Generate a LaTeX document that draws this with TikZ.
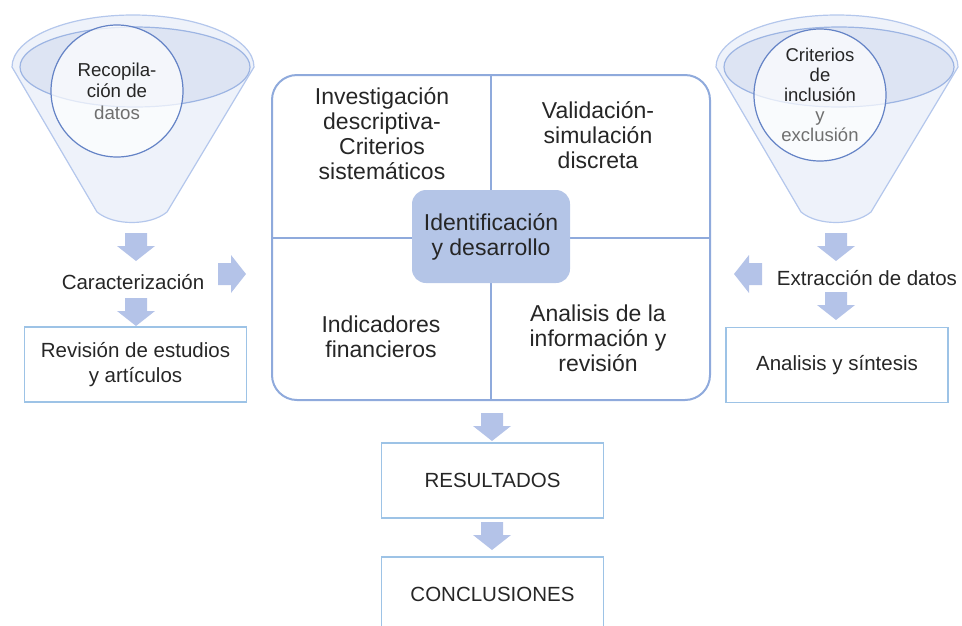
\documentclass[tikz,border=0pt]{standalone}
\usepackage{fontspec}
\setmainfont{Liberation Sans}

\definecolor{txt}{HTML}{262626}
\definecolor{soft}{HTML}{6F6F6F}
\definecolor{boxline}{HTML}{9DC3E6}
\definecolor{frameline}{HTML}{8FAADC}
\definecolor{arrowc}{HTML}{B4C3E8}
\definecolor{core}{HTML}{B4C5E7}
\definecolor{funfill}{HTML}{EEF2FA}
\definecolor{funline}{HTML}{B4C7EC}
\definecolor{rimfill}{HTML}{DDE4F3}
\definecolor{rimline}{HTML}{9DB5E3}
\definecolor{ringline}{HTML}{6483C6}

\begin{document}
\begin{tikzpicture}
    [x=1pt,y=-1pt,
     every node/.style={text=txt,align=center,inner sep=0pt},
     txtS/.style={font=\fontsize{20.5}{25}\selectfont},
     txtL/.style={font=\fontsize{23}{25}\selectfont},
     txtC/.style={font=\fontsize{18.7}{21.5}\selectfont},
     stepbox/.style={rectangle,draw=boxline,line width=1.6pt,minimum width=222pt,minimum height=75pt,txtS},
     ring/.style={circle,draw=ringline,line width=1.2pt,fill=white,fill opacity=0.7,text opacity=1,minimum size=132pt,txtC},
     barrow/.pic={\fill[arrowc] (-11,0) -- (11,0) -- (11,13) -- (19,13) -- (0,28) -- (-19,13) -- (-11,13) -- cycle;}]
    \useasboundingbox (0,0) rectangle (962,625);
    \clip (0,0) rectangle (962,625);
    % funnels
    \foreach \cx in {133,837} {
      \filldraw [fill=funfill,draw=funline,line width=1.2pt]
        ({\cx-121},67) arc [start angle=180,end angle=0,x radius=121pt,y radius=52pt]
        -- ({\cx+34},212) .. controls ({\cx+17},226) and ({\cx-19},226) .. ({\cx-36},212) -- cycle;
      \filldraw [fill=rimfill,draw=rimline,line width=1.2pt] ({\cx+2},67) ellipse [x radius=115pt,y radius=40pt];
    }
    \node (recop) at (117,91) [ring] {Recopila-\\ción de\\\textcolor{soft}{datos}};
    \node (crit) at (820,95) [ring,font=\fontsize{18.5}{20}\selectfont] {Criterios\\de\\inclusión\\\textcolor{soft}{y}\\\textcolor{soft}{exclusión}};
    % left column
    \node (carac) at (133,282) [txtS] {Caracterización};
    \node (revis) at (135.5,364.5) [stepbox] {Revisión de estudios\\y artículos};
    \pic at (136,233) {barrow};
    \pic at (136,298) {barrow};
    \pic [rotate=90] at (218,274) {barrow};
    % right column
    \node (extr) at (867,278) [txtS] {Extracción de datos};
    \node (anal) at (837,365) [stepbox] {Analisis y síntesis};
    \pic at (836,233) {barrow};
    \pic at (836,292) {barrow};
    \pic [rotate=-90] at (762,274) {barrow};
    % center matrix
    \node (frame) at (491,237.5) [rectangle,rounded corners=25pt,draw=frameline,line width=2pt,minimum width=438pt,minimum height=325pt] {};
    \draw [frameline,line width=2pt] (frame.north) -- (frame.south);
    \draw [frameline,line width=2pt] (frame.west) -- (frame.east);
    \node (core) at (491,236.5) [rectangle,rounded corners=14pt,fill=core,minimum width=158pt,minimum height=93pt,txtL] {Identificación\\y desarrollo};
    \node (q1) at (382,134) [txtL] {Investigación\\descriptiva-\\Criterios\\sistemáticos};
    \node (q2) at (598,135) [txtL] {Validación-\\simulación\\discreta};
    \node (q3) at (381,337) [txtL] {Indicadores\\financieros};
    \node (q4) at (598,338) [txtL] {Analisis de la\\información y\\revisión};
    % bottom
    \pic at (492,413) {barrow};
    \node (res) at (492.5,480.5) [stepbox] {RESULTADOS};
    \pic at (492,522) {barrow};
    \node (concl) at (492.5,594.5) [stepbox] {CONCLUSIONES};
  \end{tikzpicture}
\end{document}
